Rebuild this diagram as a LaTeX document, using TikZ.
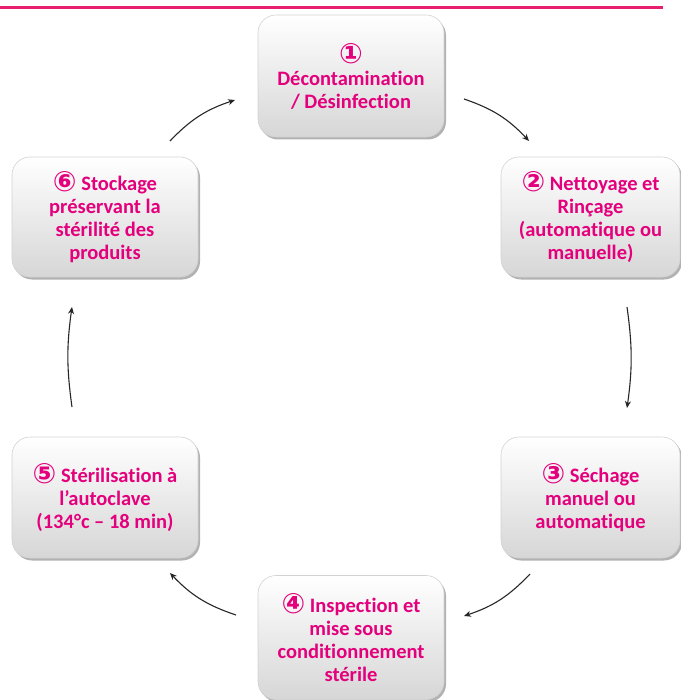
\documentclass[tikz,border=0pt]{standalone}
\usepackage{fontspec}
\setmainfont{Carlito}[Ligatures={NoCommon}]
\newfontfamily\symfont{DejaVu Sans Bold}
\usetikzlibrary{shadows,arrows.meta}
\definecolor{pinkline}{RGB}{232,30,110}
\definecolor{txtpink}{RGB}{228,0,124}
\newcommand{\cnum}[1]{{\symfont\fontsize{28}{23}\selectfont\raisebox{-1pt}{#1}}}
\begin{document}
\begin{tikzpicture}[x=1pt,y=-1pt,
  stepbox/.style={draw=gray!35, line width=0.6pt, rounded corners=18pt,
    top color=white, bottom color=gray!32, inner sep=0pt,
    drop shadow={shadow xshift=2pt, shadow yshift=-2.5pt, opacity=0.3, fill=black},
    text=txtpink, font=\fontsize{20.5}{23}\selectfont\bfseries, align=center},
  cyc/.style={-{Stealth[length=7pt,width=6pt]}, line width=1.1pt, black!85}]
\useasboundingbox (0,0) rectangle (680,700);
\draw[pinkline, line width=3pt] (0,8) -- (663,8);

\node[stepbox, minimum width=186pt, minimum height=122pt] (n1) at (351,76)
  {\cnum{①}\\Décontamination\\/ Désinfection};
\node[stepbox, minimum width=179pt, minimum height=120pt] (n2) at (590.5,217)
  {\cnum{②} Nettoyage et\\Rinçage\\(automatique ou\\manuelle)};
\node[stepbox, minimum width=179pt, minimum height=121pt] (n3) at (590.5,497.5)
  {\cnum{③} Séchage\\manuel ou\\automatique};
\node[stepbox, minimum width=186pt, minimum height=124pt] (n4) at (351,637.5)
  {\cnum{④} Inspection et\\mise sous\\conditionnement\\stérile};
\node[stepbox, minimum width=186pt, minimum height=121pt] (n5) at (105,497.5)
  {\cnum{⑤} Stérilisation à\\l’autoclave\\(134°c – 18 min)};
\node[stepbox, minimum width=186pt, minimum height=120pt] (n6) at (105,217)
  {\cnum{⑥} Stockage\\préservant la\\stérilité des\\produits};

\coordinate (a1s) at (170,141); \coordinate (a1e) at (235,100);
\coordinate (a2s) at (464,99);  \coordinate (a2e) at (529,141);
\coordinate (a3s) at (627,307); \coordinate (a3e) at (627,408);
\coordinate (a4s) at (530,574); \coordinate (a4e) at (464,616);
\coordinate (a5s) at (236,615); \coordinate (a5e) at (170,573);
\coordinate (a6s) at (72,407);  \coordinate (a6e) at (72,307);

\draw[cyc] (a1s) to[bend left=14] (a1e);
\draw[cyc] (a2s) to[bend left=14] (a2e);
\draw[cyc] (a3s) to[bend left=8] (a3e);
\draw[cyc] (a4s) to[bend left=14] (a4e);
\draw[cyc] (a5s) to[bend left=14] (a5e);
\draw[cyc] (a6s) to[bend left=8] (a6e);
\end{tikzpicture}
\end{document}
